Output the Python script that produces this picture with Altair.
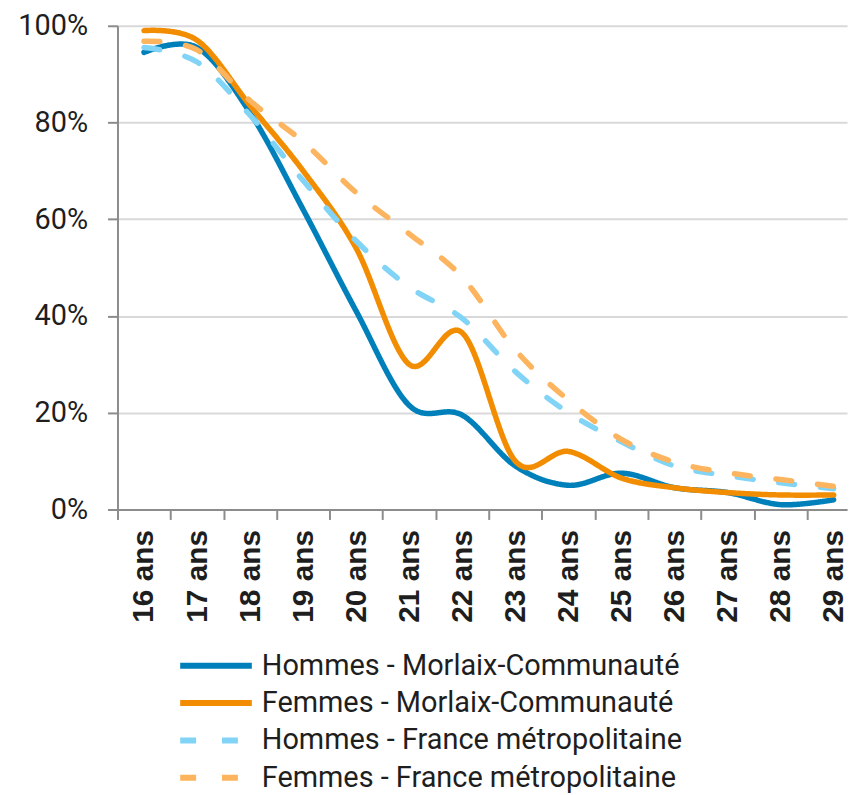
import altair as alt
import pandas as pd

ages = list(range(16, 30))
series = [
    "Hommes - Morlaix-Communauté",
    "Femmes - Morlaix-Communauté",
    "Hommes - France métropolitaine",
    "Femmes - France métropolitaine",
]
hommes_morlaix = [94.5, 95.5, 82.0, 62.0, 41.0, 21.5, 19.5, 9.0, 5.0, 7.5, 4.5, 3.5, 1.0, 2.0]
femmes_morlaix = [99.0, 97.0, 83.5, 70.0, 54.0, 30.0, 36.5, 10.0, 12.0, 6.5, 4.5, 3.5, 3.0, 3.0]
hommes_france = [95.5, 92.5, 81.5, 68.0, 55.5, 46.0, 39.5, 28.5, 20.0, 14.0, 9.0, 7.0, 5.5, 4.3]
femmes_france = [96.8, 95.0, 84.5, 76.0, 65.5, 57.0, 48.0, 33.0, 22.6, 14.5, 9.8, 7.6, 6.2, 4.8]

colors = ["#0080BA", "#F28C00", "#82D4F7", "#FDB45E"]
dashes = [[1, 0], [1, 0], [16, 26], [16, 26]]

rows = []
for name, vals in zip(series, [hommes_morlaix, femmes_morlaix, hommes_france, femmes_france]):
    for a, v in zip(ages, vals):
        rows.append({"age": a, "serie": name, "taux": v / 100})
df = pd.DataFrame(rows)

step = 53.3
W = 733
H = 486
x_max = 15.5 + W / step
axis_gray = "#8C8C8C"
text_color = "#1E1E1E"

leg = alt.Legend(
    title=None,
    orient="none",
    legendX=60,
    legendY=625,
    direction="vertical",
    symbolType="stroke",
    symbolSize=5184,
    symbolStrokeWidth=6,
    clipHeight=36,
    rowPadding=1.5,
    labelFont="Roboto",
    labelFontSize=29,
    labelColor=text_color,
    labelOffset=7,
    labelLimit=0,
    padding=0,
)

chart = (
    alt.Chart(df)
    .mark_line(interpolate="cardinal", strokeWidth=5.5, strokeCap="round", strokeJoin="round")
    .encode(
        x=alt.X(
            "age:Q",
            scale=alt.Scale(domain=[15.5, x_max], nice=False, zero=False),
            axis=alt.Axis(
                values=ages,
                labelExpr="datum.value + ' ans'",
                tickOffset=-step / 2,
                labelOffset=step / 2,
                labelAngle=-90,
                labelFont="Liberation Sans",
                labelFontWeight="bold",
                labelFontSize=30,
                labelColor=text_color,
                labelPadding=10,
                tickSize=10,
                tickWidth=2,
                tickColor=axis_gray,
                domainColor=axis_gray,
                domainWidth=2,
                grid=False,
                title=None,
            ),
        ),
        y=alt.Y(
            "taux:Q",
            scale=alt.Scale(domain=[0, 1], nice=False),
            axis=alt.Axis(
                values=[0, 0.2, 0.4, 0.6, 0.8, 1.0],
                format=".0%",
                grid=True,
                gridColor="#D9D9D9",
                gridWidth=2,
                domainColor=axis_gray,
                domainWidth=2,
                tickColor=axis_gray,
                tickWidth=2,
                tickSize=10,
                labelFont="Roboto",
                labelFontSize=29,
                labelPadding=20,
                labelColor=text_color,
                title=None,
            ),
        ),
        color=alt.Color("serie:N", scale=alt.Scale(domain=series, range=colors), legend=leg),
        strokeDash=alt.StrokeDash("serie:N", scale=alt.Scale(domain=series, range=dashes), legend=leg),
    )
    .properties(
        width=W,
        height=H,
        autosize=alt.AutoSizeParams(type="none"),
        padding={"left": 110, "top": 16, "right": 4, "bottom": 284},
    )
    .configure_view(stroke=None)
)

chart.save("out.html", embed_options={"renderer": "svg", "actions": False})
